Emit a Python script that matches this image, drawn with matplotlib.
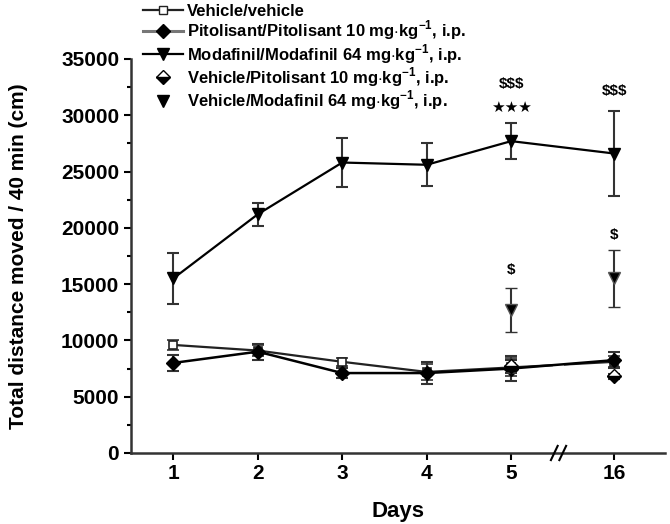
import numpy as np
import matplotlib
matplotlib.use("Agg")
import matplotlib.pyplot as plt
from matplotlib.lines import Line2D
import matplotlib.transforms as mtransforms

plt.rcParams['font.family'] = ['Liberation Sans', 'DejaVu Sans']
plt.rcParams['font.weight'] = 'bold'
plt.rcParams['mathtext.fontset'] = 'custom'
plt.rcParams['mathtext.rm'] = 'Liberation Sans:bold'
plt.rcParams['mathtext.bf'] = 'Liberation Sans:bold'

# Data
day_labels = ['1', '2', '3', '4', '5', '16']
day_pos = [1, 2, 3, 4, 5, 6.22]   # day 16 sits after the axis break

veh_veh = [9600, 9100, 8100, 7200, 7600, 8100]
veh_veh_err = [450, 450, 350, 700, 800, 500]

pit_pit = [8000, 9000, 7100, 7100, 7500, 8250]
pit_pit_err = [680, 700, 450, 950, 1100, 700]

mod_mod = [15500, 21200, 25800, 25600, 27700, 26600]
mod_mod_err = [2250, 1000, 2150, 1900, 1600, 3800]

veh_pit_pos = [5, 6.22]
veh_pit = [7700, 6800]
veh_pit_err = [600, 250]

veh_mod_pos = [5, 6.22]
veh_mod = [12700, 15500]
veh_mod_err = [1950, 2500]

fig = plt.figure(figsize=(6.7, 5.24), dpi=100)
ax = fig.add_axes([0.1955, 0.1355, 0.797, 0.752])

ekw = dict(capsize=4, elinewidth=1.5, capthick=1.5, ecolor='#333333')

ax.errorbar(day_pos, veh_veh, yerr=veh_veh_err, color='#222222', lw=1.6,
            marker='s', ms=6, mfc='white', mec='#222222', mew=1.2, zorder=3, **ekw)
ax.errorbar(day_pos, pit_pit, yerr=pit_pit_err, color='black', lw=1.8,
            marker='D', ms=7, mfc='black', mec='black', zorder=4, **ekw)
ax.errorbar(day_pos, mod_mod, yerr=mod_mod_err, color='black', lw=1.6,
            marker='v', ms=9, mfc='black', mec='black', zorder=4, **ekw)
ax.errorbar(veh_pit_pos, veh_pit, yerr=veh_pit_err, ls='none',
            marker='D', ms=7, fillstyle='bottom', mfc='black', mfcalt='white',
            mec='black', zorder=5, **ekw)
ax.errorbar(veh_mod_pos, veh_mod, yerr=veh_mod_err, ls='none',
            marker='v', ms=9, mfc='black', mec='#555555', mew=1.0, zorder=5, **ekw)

# gap in the lines at the axis break
ax.axvspan(5.49, 5.63, ymin=0.01, ymax=1, color='white', zorder=3.5, lw=0)

# significance marks
mod_top = np.array(mod_mod) + np.array(mod_mod_err)
vmod_top = np.array(veh_mod) + np.array(veh_mod_err)
ax.annotate('\u2605\u2605\u2605', (day_pos[4], mod_top[4]), xytext=(0, 11),
            textcoords='offset points', ha='center', va='center', fontsize=11,
            family='DejaVu Sans')
ax.annotate('$$$', (day_pos[4], mod_top[4]), xytext=(0, 28),
            textcoords='offset points', ha='center', va='center', fontsize=11)
ax.annotate('$$$', (day_pos[5], mod_top[5]), xytext=(0, 14),
            textcoords='offset points', ha='center', va='center', fontsize=11)
ax.annotate('$', (veh_mod_pos[0], vmod_top[0]), xytext=(0, 13),
            textcoords='offset points', ha='center', va='center', fontsize=11)
ax.annotate('$', (veh_mod_pos[1], vmod_top[1]), xytext=(0, 11),
            textcoords='offset points', ha='center', va='center', fontsize=11)

ax.set_xlim(0.5, 6.82)
ax.set_ylim(0, 35000)
ax.set_xticks(day_pos)
ax.set_xticklabels(day_labels)
ax.set_yticks(np.arange(0, 35001, 5000))
ax.set_yticks(np.arange(2500, 35000, 5000), minor=True)
ax.tick_params(axis='both', labelsize=15, width=1.5, length=5, direction='out')
ax.tick_params(axis='x', pad=3)
ax.tick_params(axis='y', which='minor', width=1.5, length=3)
ax.spines['top'].set_visible(False)
ax.spines['right'].set_visible(False)
for s in ['left', 'bottom']:
    ax.spines[s].set_linewidth(1.8)
    ax.spines[s].set_color('#333333')
    ax.spines[s].set_zorder(6)

# axis break mark
trans = mtransforms.blended_transform_factory(ax.transData, ax.transAxes)
for dx in (-0.05, 0.05):
    ax.plot([5.56 + dx - 0.04, 5.56 + dx + 0.04], [-0.018, 0.018], transform=trans,
            color='black', lw=1.5, clip_on=False, zorder=7)

ax.set_xlabel('Days', fontsize=16, fontweight='bold', labelpad=13)
ax.set_ylabel('Total distance moved / 40 min (cm)', fontsize=15, fontweight='bold',
              labelpad=24)

unit = r'mg$\cdot$kg$^{\mathbf{-1}}$, i.p.'
handles = [
    Line2D([], [], color='#222222', lw=1.6, marker='s', ms=6, mfc='white', mec='#222222'),
    Line2D([], [], color='#777777', lw=2.2, marker='D', ms=7, mfc='black', mec='black'),
    Line2D([], [], color='black', lw=1.6, marker='v', ms=9, mfc='black', mec='black'),
    Line2D([], [], ls='none', marker='D', ms=7, fillstyle='bottom', mfc='black',
           mfcalt='white', mec='black'),
    Line2D([], [], ls='none', marker='v', ms=9, mfc='black', mec='black'),
]
labels = ['Vehicle/vehicle',
          'Pitolisant/Pitolisant 10 ' + unit,
          'Modafinil/Modafinil 64 ' + unit,
          'Vehicle/Pitolisant 10 ' + unit,
          'Vehicle/Modafinil 64 ' + unit]
fig.legend(handles, labels, loc='upper left', bbox_to_anchor=(0.203, 1.005),
           frameon=False, fontsize=12, handlelength=2.4, handletextpad=0.25,
           labelspacing=-0.02, borderaxespad=0)

fig.savefig('out.png', dpi=100)
